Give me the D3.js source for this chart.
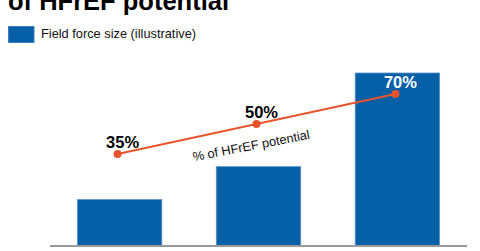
<!DOCTYPE html>
<html>
<head>
<meta charset="utf-8">
<script src="https://cdn.jsdelivr.net/npm/d3@7"></script>
<style>
  body { margin: 0; background: #fff; }
  svg { display: block; font-family: Arial, "Liberation Sans", sans-serif; }
</style>
</head>
<body>
<svg id="chart" width="480" height="251"></svg>
<script>
/****************************/
/*          Data            */
/****************************/
const categories = ["A", "B", "C"];
const fieldForce = [26.6, 45.7, 100];
const potentialLabels = ["35%", "50%", "70%"];

const titleText = "of HFrEF potential";
const legendLabel = "Field force size (illustrative)";
const lineLabel = "% of HFrEF potential";

const svg = d3.select("#chart");

const xScale = d3.scaleBand()
  .domain(categories)
  .range([50, 467])
  .paddingInner(0.392)
  .paddingOuter(0.197);

const yScale = d3.scaleLinear()
  .domain([0, 100])
  .range([245.5, 73]);

// line positions are illustrative, evenly stepped
const yLine = d3.scalePoint()
  .domain(potentialLabels)
  .range([154, 94]);

/****************************/
/*     Title and legend     */
/****************************/
svg.append("text")
  .attr("x", 8)
  .attr("y", 10)
  .attr("fill", "#000")
  .style("font-weight", 700)
  .style("font-size", "25.5px")
  .text(titleText);

svg.append("rect")
  .attr("x", 8.5)
  .attr("y", 26.5)
  .attr("width", 25.5)
  .attr("height", 16)
  .attr("fill", "#0560a8")
  .attr("stroke", "#3f7fc0")
  .attr("stroke-width", 1);

svg.append("text")
  .attr("x", 41)
  .attr("y", 38)
  .attr("fill", "#111")
  .style("font-size", "12.8px")
  .text(legendLabel);

/****************************/
/*          Bars            */
/****************************/
svg.selectAll(".bar")
  .data(fieldForce)
  .join("rect")
    .attr("class", "bar")
    .attr("x", (d, i) => xScale(categories[i]))
    .attr("y", d => yScale(d))
    .attr("width", xScale.bandwidth())
    .attr("height", d => yScale(0) - yScale(d))
    .attr("fill", "#0560a8")
    .attr("stroke", "#5f93cc")
    .attr("stroke-width", 0.8);

svg.append("line")
  .attr("x1", 50)
  .attr("x2", 467)
  .attr("y1", yScale(0) + 0.5)
  .attr("y2", yScale(0) + 0.5)
  .attr("stroke", "#9a9a9a")
  .attr("stroke-width", 2);

/****************************/
/*      Potential line      */
/****************************/
const points = potentialLabels.map((label, i) => ({
  label,
  x: xScale(categories[i]) + xScale.bandwidth() / 2 - 2,
  y: yLine(label)
}));

svg.append("path")
  .datum(points)
  .attr("fill", "none")
  .attr("stroke", "#e9532b")
  .attr("stroke-width", 1.8)
  .attr("d", d3.line().x(d => d.x).y(d => d.y));

svg.selectAll(".dot")
  .data(points)
  .join("circle")
    .attr("class", "dot")
    .attr("cx", d => d.x)
    .attr("cy", d => d.y)
    .attr("r", 4)
    .attr("fill", "#e9532b");

svg.selectAll(".pct")
  .data(points)
  .join("text")
    .attr("class", "pct")
    .attr("x", d => d.x + 5)
    .attr("y", d => d.y - 6.5)
    .attr("text-anchor", "middle")
    .attr("fill", (d, i) => i === 2 ? "#fff" : "#000")
    .style("font-weight", 700)
    .style("font-size", "16.5px")
    .text(d => d.label);

svg.append("text")
  .attr("transform", "translate(252, 150) rotate(-11)")
  .attr("text-anchor", "middle")
  .attr("fill", "#111")
  .style("font-size", "12.8px")
  .text(lineLabel);
</script>
</body>
</html>
